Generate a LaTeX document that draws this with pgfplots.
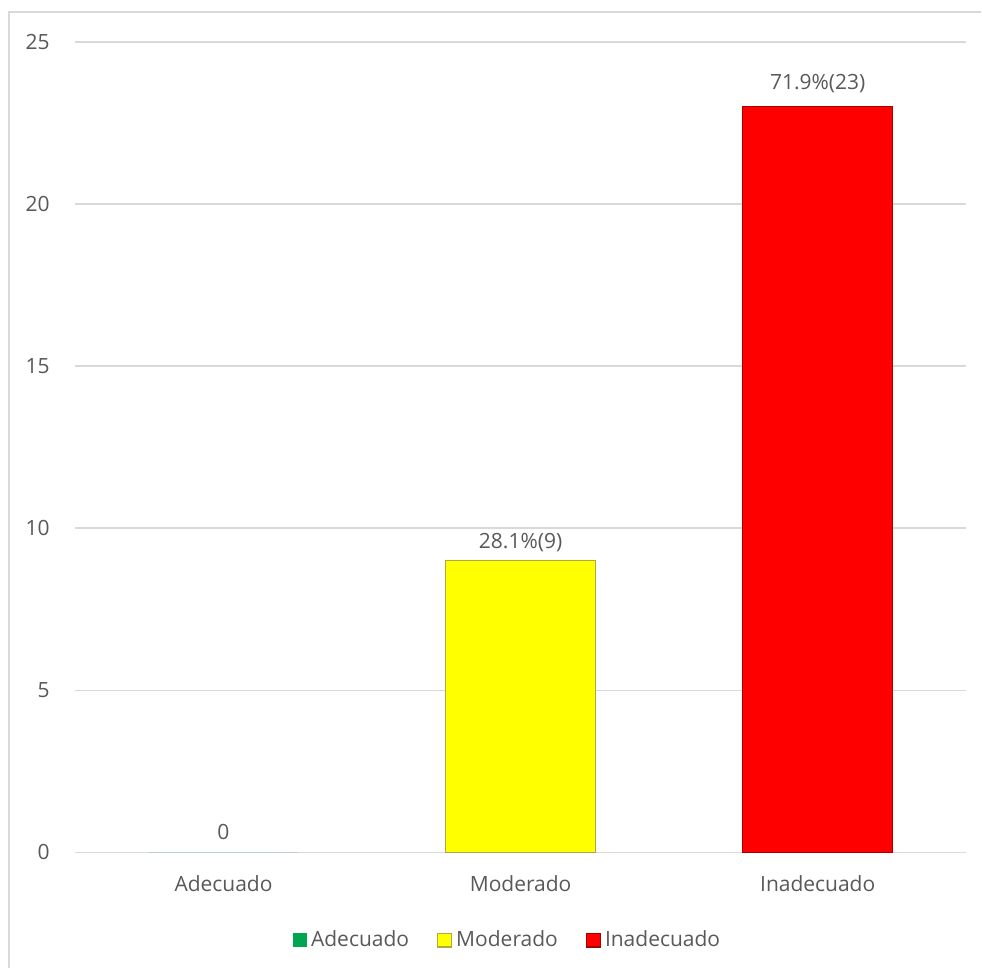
\documentclass[border=0pt]{standalone}
\usepackage{pgfplots}
\pgfplotsset{compat=1.18}
\usepackage{fontspec}
\setmainfont{Open Sans}
\definecolor{txt}{HTML}{595959}
\definecolor{gridc}{HTML}{D9D9D9}
\definecolor{cgreen}{HTML}{00A550}
\definecolor{cyellow}{HTML}{FFFF00}
\definecolor{cred}{HTML}{FF0000}
\begin{document}
\begin{tikzpicture}
\path[fill=white] (0,0) rectangle (491pt,-484.5pt);
\draw[gridc, line width=0.75pt] (4.5pt,-484.5pt) -- (4.5pt,-6pt) -- (491pt,-6pt);
\begin{axis}[
  at={(37.5pt,-426.5pt)}, anchor=south west,
  scale only axis, width=446pt, height=405.5pt,
  xmin=-0.5, xmax=2.5, ymin=0, ymax=25,
  ytick={0,5,10,15,20,25},
  xtick={0,1,2}, xticklabels={Adecuado,Moderado,Inadecuado},
  ymajorgrids, major grid style={gridc, line width=0.75pt},
  axis line style={draw=none}, major tick style={draw=none},
  /pgf/number format/assume math mode=true,
  tick label style={font=\fontsize{10.5}{12.6}\selectfont, text=txt},
  yticklabel style={anchor=east, inner sep=0pt, xshift=-12.5pt},
  xticklabel style={anchor=base, inner sep=0pt, yshift=-19.5pt},
  legend columns=3,
  legend style={at={(0.5,0)}, anchor=center, xshift=-6.5pt, yshift=-44pt, draw=none, fill=none,
    font=\fontsize{10.5}{12.6}\selectfont, text=txt,
    nodes={inner sep=1pt},
    /tikz/every odd column/.append style={column sep=1pt},
    /tikz/every even column/.append style={column sep=13pt}},
  legend image code/.code={\fill[#1] (0pt,-3.4pt) rectangle (7pt,3.4pt);},
  every node near coord/.append style={font=\fontsize{10.5}{12.6}\selectfont, text=txt, anchor=base, inner sep=0pt},
]
\addplot[ybar, bar width=75pt, bar shift=0pt, fill=cgreen, draw=none,
  nodes near coords={0}, every node near coord/.append style={yshift=6.5pt}]
  coordinates {(0,0)};
\addlegendentry{Adecuado}
\addplot[ybar, bar width=75pt, bar shift=0pt, fill=cyellow, draw=yellow!65!black, line width=0.6pt,
  nodes near coords={28.1\%(9)}, every node near coord/.append style={yshift=6pt}]
  coordinates {(1,9)};
\addlegendentry{Moderado}
\addplot[ybar, bar width=75pt, bar shift=0pt, fill=cred, draw=red!65!black, line width=0.6pt,
  nodes near coords={71.9\%(23)}, every node near coord/.append style={yshift=8.5pt}]
  coordinates {(2,23)};
\addlegendentry{Inadecuado}
\end{axis}
\end{tikzpicture}
\end{document}
